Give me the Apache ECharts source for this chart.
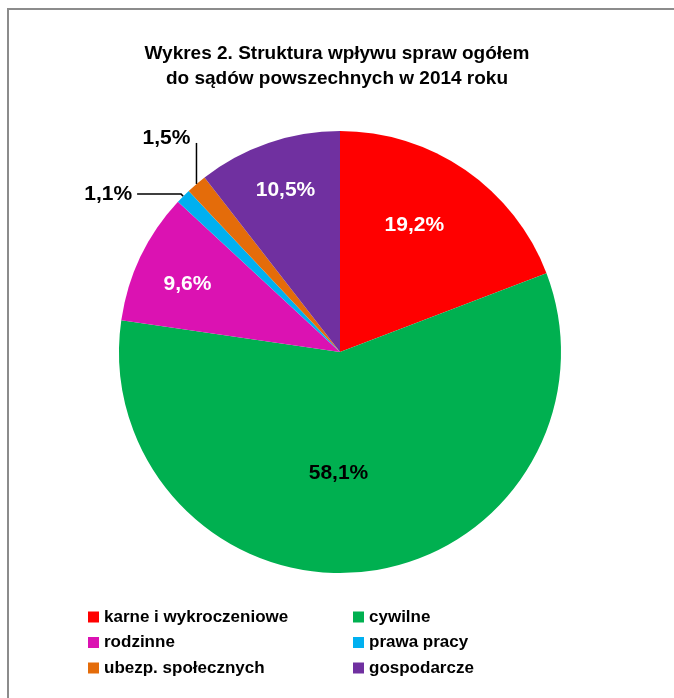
<!DOCTYPE html>
<html>
<head>
<meta charset="utf-8">
<script src="https://cdn.jsdelivr.net/npm/echarts@6/dist/echarts.min.js"></script>
<style>
    html, body { margin: 0; padding: 0; background: #fff; }
    #frame { position: absolute; left: 7px; top: 8px; width: 680px; height: 700px;
             border-top: 2px solid #8c8c8c; border-left: 2px solid #8c8c8c; }
    #show { position: absolute; left: 0; top: 0; width: 674px; height: 698px; }
</style>
</head>
<body>
<div id="frame"></div>
<div id="show"></div>
<script>
    // dane z wykresu
    var kategorie = ['karne i wykroczeniowe', 'cywilne', 'rodzinne', 'prawa pracy', 'ubezp. społecznych', 'gospodarcze'];
    var wartosci = [19.2, 58.1, 9.6, 1.1, 1.5, 10.5];
    var kolory = ['#ff0000', '#00b050', '#db12b2', '#00b0f0', '#e46c0a', '#7030a0'];
    var legendaLewa = ['karne i wykroczeniowe', 'rodzinne', 'ubezp. społecznych'];
    var legendaPrawa = ['cywilne', 'prawa pracy', 'gospodarcze'];

    var font = '"Liberation Sans", Arial, sans-serif';
    var cx = 340, cy = 352, R = 221;
    // etykiety wewnątrz: [odległość od środka / R, przesunięcie kąta w stopniach]
    var labelPos = [[0.666, 4.2], [0.548, -7.0], [0.755, 1.7], null, null, [0.773, -0.3]];
    var labelColor = ['#fff', '#000', '#fff', '#000', '#000', '#fff'];

    var suma = 0;
    for (var j = 0; j < wartosci.length; j++) suma += wartosci[j];

    // kąt środka wycinka (radiany, 0 = w prawo, przeciwnie do zegara)
    function katSrodka(idx) {
        var przed = 0;
        for (var j = 0; j < idx; j++) przed += wartosci[j];
        return (90 - (przed + wartosci[idx] / 2) / suma * 360) * Math.PI / 180;
    }
    // punkt na łuku w środku wycinka
    function brzeg(idx) {
        var k = katSrodka(idx);
        return [cx + R * Math.cos(k), cy - R * Math.sin(k)];
    }

    var myChart = echarts.init(document.getElementById('show'));

    var data = [];
    for (var i = 0; i < kategorie.length; i++) {
        var item = {
            name: kategorie[i], value: wartosci[i], itemStyle: { color: kolory[i] },
            label: { color: labelColor[i] }
        };
        if (labelPos[i] == null) {
            item.label.position = 'outside';
            item.labelLine = { show: true, length: 3, length2: 44, lineStyle: { color: '#000', width: 1.5 } };
        }
        data.push(item);
    }
    // 1,5% - linia pionowa rysowana osobno
    data[4].labelLine = { show: false };
    var e4 = brzeg(4);

    var legendText = { fontFamily: font, fontWeight: 'bold', fontSize: 17, color: '#000', lineHeight: 20 };

    option = {
        animation: false,
        title: {
            text: 'Wykres 2. Struktura wpływu spraw ogółem\ndo sądów powszechnych w 2014 roku',
            left: 'center',
            top: 36,
            textStyle: { fontFamily: font, fontWeight: 'bold', fontSize: 19, lineHeight: 25, color: '#000' }
        },
        legend: [
            {
                data: legendaLewa, orient: 'vertical', left: 88, top: 607, padding: 0,
                icon: 'rect', itemWidth: 11, itemHeight: 11, itemGap: 5.5,
                textStyle: legendText
            },
            {
                data: legendaPrawa, orient: 'vertical', left: 353, top: 607, padding: 0,
                icon: 'rect', itemWidth: 11, itemHeight: 11, itemGap: 5.5,
                textStyle: legendText
            }
        ],
        graphic: [{
            type: 'line',
            shape: { x1: e4[0], y1: e4[1], x2: e4[0], y2: e4[1] - 41 },
            style: { stroke: '#000', lineWidth: 1.5 },
            z: 10
        }],
        series: [{
            type: 'pie',
            center: [cx, cy],
            radius: [0, R],
            startAngle: 90,
            clockwise: true,
            avoidLabelOverlap: false,
            label: {
                show: true,
                position: 'inside',
                formatter: function (p) { return String(p.value).replace('.', ',') + '%'; },
                fontFamily: font, fontWeight: 'bold', fontSize: 21
            },
            labelLine: { show: false },
            labelLayout: function (p) {
                var idx = p.dataIndex;
                var kat = katSrodka(idx);
                if (idx == 4) {
                    // 1,5% nad wycinkiem, na lewo od linii
                    var e = brzeg(4);
                    return { x: e[0] - 30, y: e[1] - 46, align: 'center', verticalAlign: 'middle' };
                }
                var lp = labelPos[idx];
                if (lp == null) return {};
                var a = kat + lp[1] * Math.PI / 180;
                var tx = cx + lp[0] * R * Math.cos(a);
                var ty = cy - lp[0] * R * Math.sin(a);
                var lx = p.labelRect.x + p.labelRect.width / 2;
                var ly = p.labelRect.y + p.labelRect.height / 2;
                return { dx: tx - lx, dy: ty - ly };
            },
            data: data
        }]
    };
    myChart.setOption(option);
</script>
</body>
</html>
